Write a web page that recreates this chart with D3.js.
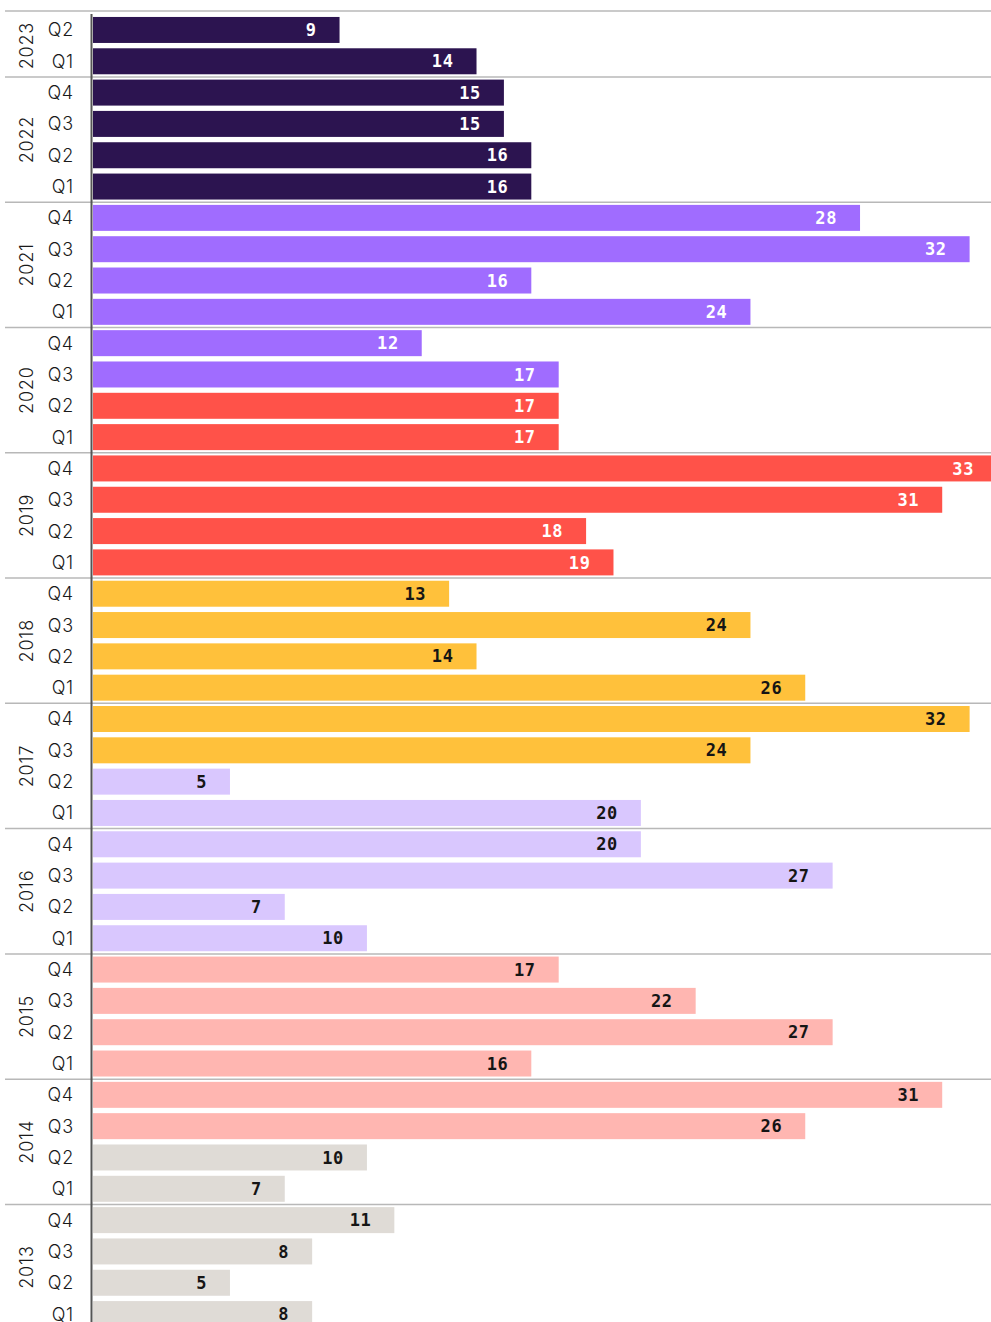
<!DOCTYPE html>
<html>
<head>
<meta charset="utf-8">
<script src="https://cdn.jsdelivr.net/npm/d3@7"></script>
<style>
  html, body { margin: 0; padding: 0; background: #fff; overflow: hidden; }
  svg { display: block; }
</style>
</head>
<body>
<svg id="chart" width="991" height="1322"></svg>
<script>
// Quarterly counts, newest first
const years = ["2023", "2022", "2021", "2020", "2019", "2018", "2017", "2016", "2015", "2014", "2013"];
const quartersByYear = [
  ["Q2", "Q1"],
  ["Q4", "Q3", "Q2", "Q1"], ["Q4", "Q3", "Q2", "Q1"], ["Q4", "Q3", "Q2", "Q1"],
  ["Q4", "Q3", "Q2", "Q1"], ["Q4", "Q3", "Q2", "Q1"], ["Q4", "Q3", "Q2", "Q1"],
  ["Q4", "Q3", "Q2", "Q1"], ["Q4", "Q3", "Q2", "Q1"], ["Q4", "Q3", "Q2", "Q1"],
  ["Q4", "Q3", "Q2", "Q1"]
];
const valuesByYear = [
  [9, 14],
  [15, 15, 16, 16],
  [28, 32, 16, 24],
  [12, 17, 17, 17],
  [33, 31, 18, 19],
  [13, 24, 14, 26],
  [32, 24, 5, 20],
  [20, 27, 7, 10],
  [17, 22, 27, 16],
  [31, 26, 10, 7],
  [11, 8, 5, 8]
];
// Colour phase of each bar (index into phaseColors)
const phaseByYear = [
  [0, 0],
  [0, 0, 0, 0],
  [1, 1, 1, 1],
  [1, 1, 2, 2],
  [2, 2, 2, 2],
  [3, 3, 3, 3],
  [3, 3, 4, 4],
  [4, 4, 4, 4],
  [5, 5, 5, 5],
  [5, 5, 6, 6],
  [6, 6, 6, 6]
];
const phaseColors = ["#2c1450", "#a06cff", "#ff5249", "#ffc13b", "#d9c7fe", "#ffb6b1", "#dfdbd6"];
const phaseText   = ["#ffffff", "#ffffff", "#ffffff", "#151515", "#151515", "#151515", "#151515"];

// Flatten into rows
const rows = [];
years.forEach((yr, yi) => {
  quartersByYear[yi].forEach((q, qi) => {
    rows.push({
      id: yr + "-" + q,
      year: yr,
      quarter: q,
      value: valuesByYear[yi][qi],
      phase: phaseByYear[yi][qi],
      first: qi === 0
    });
  });
});

const svg = d3.select("#chart");
const barLeft = 93;
const rowStep = 31.32;
const plotTop = 14.3;

const x = d3.scaleLinear().domain([0, 33]).range([barLeft, 997]);
const y = d3.scaleBand()
  .domain(rows.map(d => d.id))
  .range([plotTop, plotTop + rows.length * rowStep])
  .paddingInner(0.17)
  .paddingOuter(0.085);

const gap = (y.step() - y.bandwidth()) / 2;

// Top rule
svg.append("line")
  .attr("x1", 5).attr("x2", 991)
  .attr("y1", 11).attr("y2", 11)
  .attr("stroke", "#b8b8b8").attr("stroke-width", 1.5);

// Year separators
rows.filter((d, i) => d.first && i > 0).forEach(d => {
  const yy = y(d.id) - gap;
  svg.append("line")
    .attr("x1", 5).attr("x2", 991)
    .attr("y1", yy).attr("y2", yy)
    .attr("stroke", "#b8b8b8").attr("stroke-width", 1.5);
});

// Bars
svg.append("g").selectAll("rect")
  .data(rows)
  .join("rect")
  .attr("x", x(0))
  .attr("y", d => y(d.id))
  .attr("width", d => x(d.value) - x(0))
  .attr("height", y.bandwidth())
  .attr("fill", d => phaseColors[d.phase]);

// Value labels inside bar ends
svg.append("g").selectAll("text")
  .data(rows)
  .join("text")
  .attr("x", d => x(d.value) - 23)
  .attr("y", d => y(d.id) + y.bandwidth() / 2)
  .attr("dy", "0.36em")
  .attr("text-anchor", "end")
  .attr("font-family", "'DejaVu Sans Mono', 'Liberation Mono', monospace")
  .attr("font-weight", "bold")
  .attr("font-size", 17)
  .attr("letter-spacing", 0.6)
  .attr("fill", d => phaseText[d.phase])
  .text(d => d.value);

// Quarter labels
svg.append("g").selectAll("text")
  .data(rows)
  .join("text")
  .attr("x", 74)
  .attr("y", d => y(d.id) + y.bandwidth() / 2)
  .attr("dy", "0.36em")
  .attr("text-anchor", "end")
  .attr("font-family", "Inter, 'DejaVu Sans', sans-serif")
  .attr("font-weight", 300)
  .attr("font-size", 18)
  .attr("letter-spacing", 0.8)
  .attr("fill", "#1a1a1a")
  .text(d => d.quarter);

// Year labels, rotated, centred on their group
years.forEach((yr, yi) => {
  const ids = quartersByYear[yi].map(q => yr + "-" + q);
  const y1 = y(ids[0]);
  const y2 = y(ids[ids.length - 1]) + y.bandwidth();
  const cy = (y1 + y2) / 2;
  svg.append("text")
    .attr("transform", `translate(27,${cy}) rotate(-90)`)
    .attr("text-anchor", "middle")
    .attr("dy", "0.36em")
    .attr("font-family", "Inter, 'DejaVu Sans', sans-serif")
    .attr("font-weight", 300)
    .attr("font-size", 18)
    .attr("letter-spacing", 0.8)
    .attr("fill", "#1a1a1a")
    .text(yr);
});

// Baseline axis
svg.append("line")
  .attr("x1", 91.5).attr("x2", 91.5)
  .attr("y1", 14).attr("y2", 1322)
  .attr("stroke", "#555").attr("stroke-width", 2);
</script>
</body>
</html>
